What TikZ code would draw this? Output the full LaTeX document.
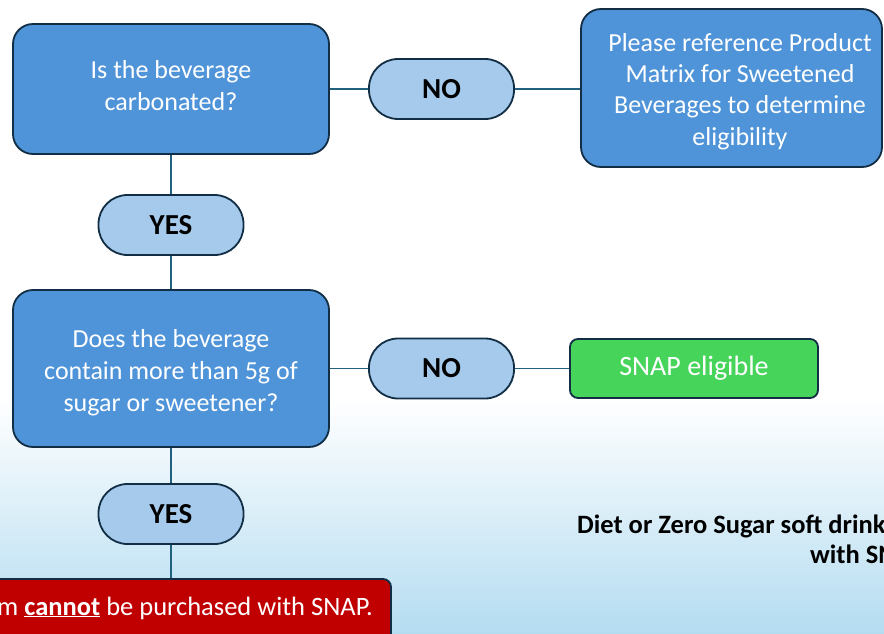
\documentclass[tikz,border=0pt]{standalone}
\usepackage{fontspec}
\setmainfont{Carlito}
\definecolor{boxblue}{HTML}{4F94D8}
\definecolor{pillblue}{HTML}{A6CAEC}
\definecolor{bordc}{HTML}{112E44}
\definecolor{connc}{HTML}{22607F}
\definecolor{snapgreen}{HTML}{47D45B}
\definecolor{redbox}{HTML}{C00000}
\definecolor{bgblue}{HTML}{B4DCF1}
\tikzset{
  qbox/.style={draw=bordc, line width=1.8pt, fill=boxblue, rounded corners=20pt, inner sep=0pt},
  boxtext/.style={text=white, align=center, inner sep=0pt, anchor=north,
    font=\fontsize{26}{32}\selectfont},
  pill/.style={draw=bordc, line width=1.8pt, fill=pillblue, rounded corners=29pt,
    text=black, inner sep=0pt, minimum width=145pt, minimum height=60pt,
    font=\fontsize{29}{32}\selectfont\bfseries},
  greenbox/.style={draw=bordc, line width=1.8pt, fill=snapgreen, rounded corners=8pt,
    text=white, inner sep=0pt, font=\fontsize{28}{31}\selectfont},
  redb/.style={draw=bordc, line width=1.8pt, fill=redbox, rounded corners=8pt, inner sep=0pt},
  conn/.style={draw=connc, line width=1.8pt},
  note/.style={inner sep=0pt, font=\fontsize{26.5}{31}\selectfont\bfseries, text=black}
}
\newcommand{\topstrut}{\rule{0pt}{22pt}}
\begin{document}
\begin{tikzpicture}[x=1pt,y=-1pt]
\useasboundingbox (0,0) rectangle (884,634);
\clip (0,0) rectangle (884,634);
\fill[white] (0,0) rectangle (884,400);
\shade[top color=white, bottom color=bgblue] (0,399) rectangle (884,634);

\node[qbox, minimum width=316pt, minimum height=130pt] (q1) at (171,89) {};
\node[boxtext] (q1t) at (171,56) {\topstrut Is the beverage\\carbonated?};
\node[qbox, minimum width=301pt, minimum height=158pt] (q2) at (731.5,88) {};
\node[boxtext, font=\fontsize{26}{31.3}\selectfont] (q2t) at (740,29) {\topstrut Please reference Product\\Matrix for Sweetened\\Beverages to determine\\eligibility};
\node[qbox, minimum width=316pt, minimum height=157pt] (q3) at (171,368.5) {};
\node[boxtext] (q3t) at (171,325) {\topstrut Does the beverage\\contain more than 5g of\\sugar or sweetener?};
\node[pill] (no1) at (441.5,89) {NO};
\node[pill] (yes1) at (171,225) {YES};
\node[pill] (no2) at (441.5,368.5) {NO};
\node[pill] (yes2) at (171,514) {YES};
\node[greenbox, minimum width=248pt, minimum height=59pt] (snap) at (694,368.5) {SNAP eligible};
\node[redb, minimum width=691pt, minimum height=101pt] (red) at (45.5,629.5) {};
\node[anchor=base east, inner sep=0pt, text=white, font=\fontsize{26.5}{31}\selectfont] (redtxt) at (373,615) {This item \underline{\textbf{cannot}} be purchased with SNAP.};
\node[note, anchor=base west] (diet1) at (577,533) {Diet or Zero Sugar soft drinks can be purchased};
\node[note, anchor=base west] (diet2) at (810,563) {with SNAP.};

\draw[conn] (q1.east) -- (no1.west);
\draw[conn] (no1.east) -- (no1.east -| q2.west);
\draw[conn] (q1.south) -- (yes1.north);
\draw[conn] (yes1.south) -- (q3.north);
\draw[conn] (q3.east) -- (no2.west);
\draw[conn] (no2.east) -- (snap.west);
\draw[conn] (q3.south) -- (yes2.north);
\draw[conn] (yes2.south) -- (yes2.south |- red.north);
\end{tikzpicture}
\end{document}
